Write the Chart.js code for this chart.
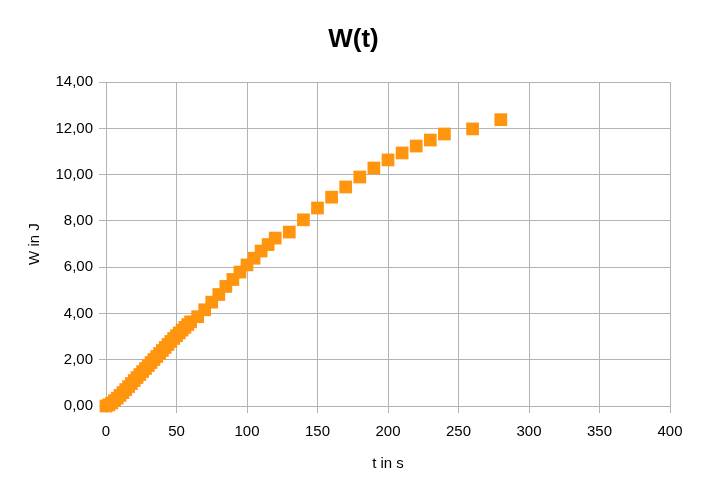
<!DOCTYPE html>
<html>
<head>
<meta charset="utf-8">
<script src="https://cdn.jsdelivr.net/npm/chart.js@4/dist/chart.umd.min.js"></script>
<style>
  html, body { margin: 0; padding: 0; background: #fff; }
  #wrap { width: 707px; height: 493px; }
</style>
</head>
<body>
<div id="wrap"><canvas id="chart" width="707" height="493"></canvas></div>
<script>
// measured time (s) and work (J)
var tValues = [0, 2, 4, 6, 8, 10, 12, 14, 16, 18, 20, 22, 24, 26, 28, 30,
  32, 34, 36, 38, 40, 42, 44, 46, 48, 50, 52, 54, 56, 58, 60,
  65, 70, 75, 80, 85, 90, 95, 100, 105, 110, 115, 120, 130,
  140, 150, 160, 170, 180, 190, 200, 210, 220, 230, 240, 260, 280];
var wValues = [0.00, 0.05, 0.13, 0.23, 0.34, 0.46, 0.58, 0.71, 0.84, 0.97, 1.10, 1.23, 1.36, 1.49, 1.62, 1.75,
  1.88, 2.01, 2.14, 2.27, 2.40, 2.53, 2.66, 2.79, 2.92, 3.04, 3.16, 3.28, 3.40, 3.52, 3.64,
  3.86, 4.16, 4.49, 4.82, 5.17, 5.47, 5.79, 6.10, 6.39, 6.70, 6.98, 7.26, 7.52,
  8.05, 8.56, 9.03, 9.47, 9.90, 10.29, 10.64, 10.94, 11.24, 11.50, 11.76, 11.98, 12.38];

var xTicks = { min: 0, max: 400, step: 50 };
var yTicks = { min: 0, max: 14, step: 2 };

var points = tValues.map(function (t, i) { return { x: t, y: wValues[i] }; });

var font = "'Liberation Sans', Arial, sans-serif";
var gridColor = '#b3b3b3';
var orange = '#ff950e';

new Chart(document.getElementById('chart'), {
  type: 'scatter',
  data: {
    datasets: [{
      label: 'W',
      data: points,
      pointStyle: 'rect',
      pointRadius: 9,
      pointHoverRadius: 9,
      backgroundColor: orange,
      borderColor: orange,
      borderWidth: 0,
      clip: false
    }]
  },
  options: {
    responsive: false,
    animation: false,
    layout: { padding: 0 },
    plugins: {
      legend: { display: false },
      tooltip: { enabled: false },
      title: {
        display: true,
        text: 'W(t)',
        color: '#000',
        font: { family: font, size: 26, weight: 'bold' },
        padding: { top: 24, bottom: 27 }
      }
    },
    scales: {
      x: {
        type: 'linear',
        min: xTicks.min,
        max: xTicks.max,
        afterFit: function (s) { s.height = 87; },
        ticks: {
          stepSize: xTicks.step,
          color: '#000',
          padding: 10,
          maxRotation: 0,
          font: { family: font, size: 15 }
        },
        grid: { color: gridColor, tickLength: 7, lineWidth: 1 },
        border: { color: gridColor },
        title: {
          display: true,
          text: 't in s',
          color: '#000',
          font: { family: font, size: 15 },
          padding: { top: 0, bottom: 20 }
        }
      },
      y: {
        type: 'linear',
        min: yTicks.min,
        max: yTicks.max,
        afterFit: function (s) { s.width = 106; },
        ticks: {
          stepSize: yTicks.step,
          color: '#000',
          padding: 6,
          font: { family: font, size: 15 },
          callback: function (v) { return v.toFixed(2).replace('.', ','); }
        },
        grid: { color: gridColor, tickLength: 7, lineWidth: 1 },
        border: { color: gridColor },
        title: {
          display: true,
          text: 'W in J',
          color: '#000',
          font: { family: font, size: 15 },
          padding: { top: 26, bottom: 0 }
        }
      },
      // empty right margin, keeps the title centred on the whole canvas
      spacer: {
        type: 'linear',
        position: 'right',
        afterFit: function (s) { s.width = 37; },
        ticks: { display: false },
        grid: { display: false, drawTicks: false },
        border: { display: false }
      }
    }
  }
});
</script>
</body>
</html>
